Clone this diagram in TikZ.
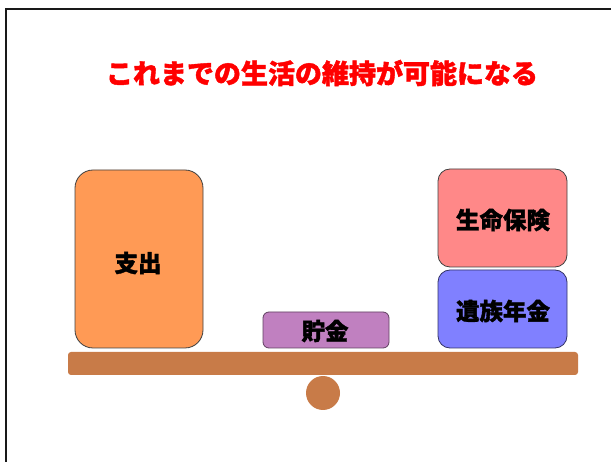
\documentclass[tikz,border=0pt]{standalone}
\usepackage{fontspec}
\newfontfamily\jp{Noto Sans CJK JP}[BoldFeatures={FakeBold=1.5}]
\definecolor{orangebox}{HTML}{FF9A55}
\definecolor{pinkbox}{HTML}{FF8888}
\definecolor{bluebox}{HTML}{8080FF}
\definecolor{purplebox}{HTML}{C080C0}
\definecolor{beamcol}{HTML}{C87B48}
\begin{document}
\begin{tikzpicture}[x=1pt,y=-1pt,
  box/.style={draw=black!75, line width=0.8pt, rounded corners=18pt},
  lbl/.style={font=\jp\bfseries\fontsize{23.5}{23.5}\selectfont, inner sep=0pt, text=black}]
\useasboundingbox (0,0) rectangle (611,462);
\clip (0,0) rectangle (611,462);
\draw[line width=2.5pt, black!90] (6,9) rectangle (620,475);
\node[font=\jp\bfseries\fontsize{27}{27}\selectfont, text=red, inner sep=0pt] (title) at (322,73) {これまでの生活の維持が可能になる};
% beam and fulcrum
\fill[beamcol, rounded corners=3pt] (68,352) rectangle (578,375);
\fill[beamcol] (323,393) circle (17);
% boxes
\draw[box, fill=orangebox] (75,170) rectangle (203,348);
\node[lbl] (shishutsu) at (138,263) {支出};
\draw[box, fill=purplebox, rounded corners=6pt, draw=purplebox!50!black] (263,312) rectangle (389,348);
\node[lbl] (chokin) at (325,331) {貯金};
\draw[box, fill=pinkbox, rounded corners=12pt] (438,169) rectangle (567,267);
\node[lbl] (seimei) at (503,220) {生命保険};
\draw[box, fill=bluebox, rounded corners=12pt, draw=bluebox!40!black] (438,270) rectangle (567,348);
\node[lbl] (izoku) at (503,311) {遺族年金};
\end{tikzpicture}
\end{document}
